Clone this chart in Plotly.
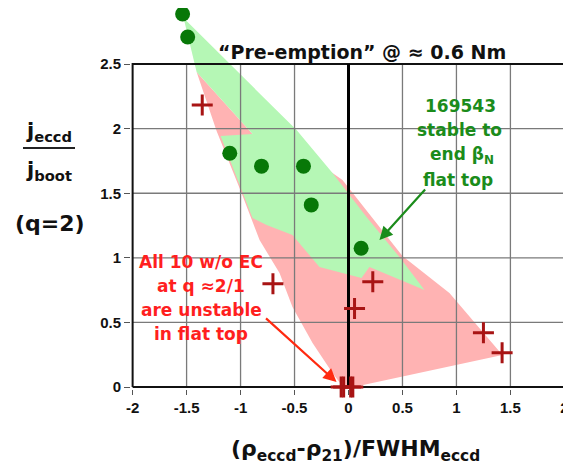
import plotly.graph_objects as go

# ---------------- data ----------------
stable_x = [-1.537, -1.49, -1.10, -0.806, -0.417, -0.345, 0.117]
stable_y = [2.887, 2.709, 1.81, 1.71, 1.71, 1.41, 1.074]

unstable_x = [-1.355, -0.70, 0.056, 0.225, 1.25, 1.423, -0.068, -0.045, 0.02, 0.04]
unstable_y = [2.183, 0.80, 0.609, 0.815, 0.42, 0.266, 0.0, 0.0, 0.0, 0.0]

pink_x = [-1.407, -1.222, -0.991, -0.824, -0.639, -0.519, -0.333, -0.148, -0.037,
          1.426, 0.935, 0.500, -0.056, -0.148, -0.546, -0.889, -1.407]
pink_y = [2.438, 1.981, 1.502, 1.138, 0.882, 0.619, 0.341, 0.108, -0.015,
          0.248, 0.728, 1.014, 1.602, 1.656, 1.912, 1.958, 2.438]

green_x = [-1.528, -0.481, -0.148, 0.167, 0.472, 0.704, 0.194, 0.120, -0.269,
           -0.519, -0.759, -0.889, -1.185, -0.889, -1.407, -1.528]
green_y = [2.856, 1.989, 1.656, 1.316, 1.006, 0.751, 0.929, 0.844, 0.929,
           1.176, 1.254, 1.308, 1.943, 1.958, 2.438, 2.856]

x_ticks = [-2, -1.5, -1, -0.5, 0, 0.5, 1, 1.5, 2]
x_ticklabels = ["-2", "-1.5", "-1", "-0.5", "0", "0.5", "1", "1.5", "2"]
y_ticks = [0, 0.5, 1, 1.5, 2, 2.5]
y_ticklabels = ["0", "0.5", "1", "1.5", "2", "2.5"]

X_MIN, X_MAX, Y_MIN, Y_MAX = -2, 2, 0, 2.5

# ---------------- figure ----------------
OFF = 8                      # default page (body) margin around the plot div
W, H = 571 - OFF, 466 - OFF
ML, MR, MT, MB = 123, 5, 0, 77
PW, PH = W - ML - MR, H - MT - MB
Y_LO = -0.015
Y_HI = Y_LO + PH / 129.2


def px(xp):                  # page pixel -> paper fraction
    return (xp - OFF - ML) / PW


def py(yp):
    return (H - MB - (yp - OFF)) / PH


fig = go.Figure()

fig.add_trace(go.Scatter(x=pink_x, y=pink_y, mode="lines", fill="toself",
                         fillcolor="#ffb3b3", line=dict(width=0), hoverinfo="skip"))
fig.add_trace(go.Scatter(x=green_x, y=green_y, mode="lines", fill="toself",
                         fillcolor="#b5f7b5", line=dict(width=0), hoverinfo="skip"))

# grid lines
gx, gy = [], []
for t in x_ticks[1:-1]:
    if t == 0:
        continue
    gx += [t, t, None]
    gy += [Y_MIN, Y_MAX, None]
for t in y_ticks[1:-1]:
    gx += [X_MIN, X_MAX, None]
    gy += [t, t, None]
fig.add_trace(go.Scatter(x=gx, y=gy, mode="lines", line=dict(color="#7a7a7a", width=1.3),
                         hoverinfo="skip"))
# frame
fig.add_trace(go.Scatter(x=[X_MIN, X_MAX, X_MAX, X_MIN, X_MIN],
                         y=[Y_MIN, Y_MIN, Y_MAX, Y_MAX, Y_MIN], mode="lines",
                         line=dict(color="#111111", width=2), hoverinfo="skip"))
# zero line
fig.add_trace(go.Scatter(x=[0, 0], y=[Y_MIN, Y_MAX], mode="lines",
                         line=dict(color="#000000", width=3), hoverinfo="skip"))

fig.add_trace(go.Scatter(x=stable_x, y=stable_y, mode="markers", cliponaxis=False,
                         marker=dict(size=15, color="#087808"), hoverinfo="skip"))
fig.add_trace(go.Scatter(x=unstable_x, y=unstable_y, mode="markers", cliponaxis=False,
                         marker=dict(symbol="cross-thin", size=15,
                                     line=dict(color="#a81414", width=3)),
                         hoverinfo="skip"))

TF = "DejaVu Sans"
ann = []


def label(xp, yp, text, size, color):
    ann.append(dict(x=px(xp), y=py(yp), xref="paper", yref="paper", showarrow=False,
                    xanchor="center", yanchor="middle", text="<b>" + text + "</b>",
                    font=dict(family=TF, size=size, color=color)))


label(362, 52, "“Pre-emption” @ ≈ 0.6 Nm", 19, "#111111")

green_lines = ["169543", "stable to", "end β<sub>N</sub>", "flat top"]
green_pos = [(460, 106), (459, 130), (462, 155), (458, 180)]
for t, (a, b) in zip(green_lines, green_pos):
    label(a, b, t, 17, "#1b8c1b")

red_lines = ["All 10 w/o EC", "at q ≈2/1", "are unstable", "in flat top"]
red_pos = [(201, 262), (201, 286), (201, 310), (201, 334)]
for t, (a, b) in zip(red_lines, red_pos):
    label(a, b, t, 17, "#ff1f1f")

# arrows
ann.append(dict(x=0.287, y=1.138, xref="x", yref="y", ax=47, ay=-52, text="",
                showarrow=True, arrowhead=2, arrowsize=1.2, arrowwidth=2.2, arrowcolor="#1b8c1b"))
ann.append(dict(x=-0.111, y=0.039, xref="x", yref="y", ax=-72, ay=-65, text="",
                showarrow=True, arrowhead=2, arrowsize=1.2, arrowwidth=2.2, arrowcolor="#ff2a10"))

# y label
label(49, 132, "j<sub>eccd</sub>", 21, "#111111")
label(49, 171, "j<sub>boot</sub>", 21, "#111111")
label(50, 223, "(q=2)", 22, "#111111")
# x label
label(355, 450, "(ρ<sub>eccd</sub>-ρ<sub>21</sub>)/FWHM<sub>eccd</sub>", 22, "#111111")

fig.update_layout(
    width=W, height=H, margin=dict(l=ML, r=MR, t=MT, b=MB, autoexpand=False),
    paper_bgcolor="white", plot_bgcolor="white", showlegend=False,
    annotations=ann,
    shapes=[dict(type="line", xref="paper", yref="paper", x0=px(23), x1=px(75),
                 y0=py(148), y1=py(148), line=dict(color="#222222", width=2))],
    xaxis=dict(range=[-2.015, 2.015], tickvals=x_ticks, ticktext=x_ticklabels,
               showgrid=False, zeroline=False, showline=False, ticks="outside",
               ticklen=5, tickcolor="#555555", automargin=False,
               tickfont=dict(family="Liberation Sans", size=15, color="#111111", weight="bold")),
    yaxis=dict(range=[Y_LO, Y_HI], tickvals=y_ticks, ticktext=y_ticklabels,
               showgrid=False, zeroline=False, showline=False, ticks="outside",
               ticklen=6, tickcolor="#555555", automargin=False,
               tickfont=dict(family="Liberation Sans", size=15, color="#111111", weight="bold")),
)

fig.write_html("out.html")
